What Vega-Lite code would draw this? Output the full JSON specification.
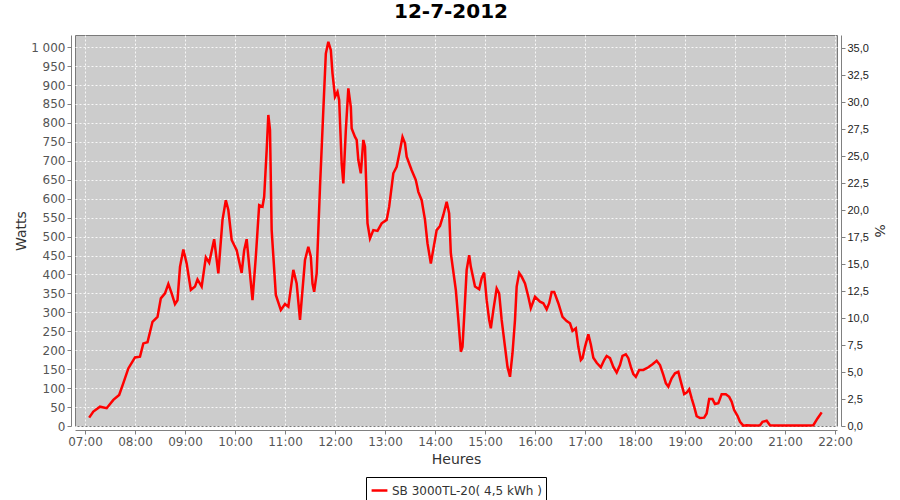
{
  "$schema": "https://vega.github.io/schema/vega-lite/v6.json",
  "width": 762,
  "height": 391,
  "autosize": {"type": "none"},
  "padding": {"left": 75, "top": 35, "right": 63, "bottom": 74},
  "background": "white",
  "title": {"text": "12-7-2012", "fontSize": 20, "fontWeight": "bold", "font": "DejaVu Sans", "color": "#000000", "anchor": "middle", "offset": 10, "dx": -5},
  "config": {
    "view": {"fill": "#cccccc", "stroke": "#7a7a7a", "strokeWidth": 1},
    "axis": {"labelFont": "DejaVu Sans", "titleFont": "DejaVu Sans", "domainColor": "#808080", "tickColor": "#808080", "tickSize": 4, "labelPadding": 2, "gridColor": "#ffffff", "gridDash": [2, 2], "gridWidth": 1, "gridOpacity": 0.85}
  },
  "layer": [
    {
      "data": {
        "values": [
          {"t":"2012-07-12T07:05","w":22},{"t":"2012-07-12T07:10","w":38},{"t":"2012-07-12T07:18","w":51},{"t":"2012-07-12T07:26","w":47},{"t":"2012-07-12T07:34","w":69},{"t":"2012-07-12T07:41","w":82},{"t":"2012-07-12T07:46","w":113},{"t":"2012-07-12T07:52","w":152},{"t":"2012-07-12T08:00","w":181},{"t":"2012-07-12T08:06","w":183},{"t":"2012-07-12T08:10","w":218},{"t":"2012-07-12T08:15","w":221},{"t":"2012-07-12T08:21","w":275},{"t":"2012-07-12T08:27","w":288},{"t":"2012-07-12T08:31","w":337},{"t":"2012-07-12T08:36","w":350},{"t":"2012-07-12T08:40","w":375},{"t":"2012-07-12T08:44","w":350},{"t":"2012-07-12T08:48","w":322},{"t":"2012-07-12T08:51","w":332},{"t":"2012-07-12T08:54","w":420},{"t":"2012-07-12T08:58","w":466},{"t":"2012-07-12T09:02","w":429},{"t":"2012-07-12T09:07","w":359},{"t":"2012-07-12T09:12","w":368},{"t":"2012-07-12T09:15","w":387},{"t":"2012-07-12T09:20","w":368},{"t":"2012-07-12T09:25","w":445},{"t":"2012-07-12T09:29","w":431},{"t":"2012-07-12T09:35","w":493},{"t":"2012-07-12T09:40","w":403},{"t":"2012-07-12T09:45","w":544},{"t":"2012-07-12T09:49","w":596},{"t":"2012-07-12T09:52","w":570},{"t":"2012-07-12T09:56","w":491},{"t":"2012-07-12T10:02","w":464},{"t":"2012-07-12T10:08","w":404},{"t":"2012-07-12T10:11","w":464},{"t":"2012-07-12T10:14","w":493},{"t":"2012-07-12T10:21","w":332},{"t":"2012-07-12T10:25","w":447},{"t":"2012-07-12T10:29","w":583},{"t":"2012-07-12T10:33","w":579},{"t":"2012-07-12T10:35","w":605},{"t":"2012-07-12T10:38","w":728},{"t":"2012-07-12T10:40","w":821},{"t":"2012-07-12T10:42","w":781},{"t":"2012-07-12T10:44","w":517},{"t":"2012-07-12T10:49","w":346},{"t":"2012-07-12T10:55","w":306},{"t":"2012-07-12T11:00","w":322},{"t":"2012-07-12T11:04","w":315},{"t":"2012-07-12T11:10","w":412},{"t":"2012-07-12T11:14","w":376},{"t":"2012-07-12T11:18","w":280},{"t":"2012-07-12T11:24","w":438},{"t":"2012-07-12T11:28","w":473},{"t":"2012-07-12T11:31","w":447},{"t":"2012-07-12T11:33","w":376},{"t":"2012-07-12T11:35","w":354},{"t":"2012-07-12T11:38","w":403},{"t":"2012-07-12T11:42","w":631},{"t":"2012-07-12T11:46","w":834},{"t":"2012-07-12T11:49","w":983},{"t":"2012-07-12T11:52","w":1014},{"t":"2012-07-12T11:55","w":992},{"t":"2012-07-12T11:57","w":931},{"t":"2012-07-12T12:00","w":869},{"t":"2012-07-12T12:03","w":882},{"t":"2012-07-12T12:05","w":860},{"t":"2012-07-12T12:08","w":693},{"t":"2012-07-12T12:10","w":640},{"t":"2012-07-12T12:13","w":781},{"t":"2012-07-12T12:16","w":891},{"t":"2012-07-12T12:19","w":842},{"t":"2012-07-12T12:20","w":785},{"t":"2012-07-12T12:24","w":763},{"t":"2012-07-12T12:26","w":755},{"t":"2012-07-12T12:28","w":702},{"t":"2012-07-12T12:31","w":667},{"t":"2012-07-12T12:34","w":755},{"t":"2012-07-12T12:36","w":737},{"t":"2012-07-12T12:39","w":535},{"t":"2012-07-12T12:42","w":495},{"t":"2012-07-12T12:46","w":517},{"t":"2012-07-12T12:51","w":515},{"t":"2012-07-12T12:56","w":535},{"t":"2012-07-12T13:02","w":544},{"t":"2012-07-12T13:05","w":579},{"t":"2012-07-12T13:10","w":667},{"t":"2012-07-12T13:14","w":684},{"t":"2012-07-12T13:18","w":728},{"t":"2012-07-12T13:21","w":763},{"t":"2012-07-12T13:24","w":746},{"t":"2012-07-12T13:26","w":711},{"t":"2012-07-12T13:32","w":675},{"t":"2012-07-12T13:37","w":649},{"t":"2012-07-12T13:40","w":618},{"t":"2012-07-12T13:44","w":596},{"t":"2012-07-12T13:48","w":544},{"t":"2012-07-12T13:51","w":482},{"t":"2012-07-12T13:55","w":429},{"t":"2012-07-12T14:02","w":517},{"t":"2012-07-12T14:06","w":528},{"t":"2012-07-12T14:10","w":557},{"t":"2012-07-12T14:14","w":592},{"t":"2012-07-12T14:17","w":561},{"t":"2012-07-12T14:19","w":456},{"t":"2012-07-12T14:25","w":359},{"t":"2012-07-12T14:28","w":280},{"t":"2012-07-12T14:31","w":196},{"t":"2012-07-12T14:33","w":209},{"t":"2012-07-12T14:35","w":288},{"t":"2012-07-12T14:38","w":412},{"t":"2012-07-12T14:41","w":451},{"t":"2012-07-12T14:43","w":420},{"t":"2012-07-12T14:48","w":368},{"t":"2012-07-12T14:53","w":361},{"t":"2012-07-12T14:56","w":390},{"t":"2012-07-12T14:59","w":405},{"t":"2012-07-12T15:02","w":332},{"t":"2012-07-12T15:05","w":280},{"t":"2012-07-12T15:07","w":258},{"t":"2012-07-12T15:10","w":306},{"t":"2012-07-12T15:14","w":363},{"t":"2012-07-12T15:17","w":350},{"t":"2012-07-12T15:20","w":280},{"t":"2012-07-12T15:24","w":209},{"t":"2012-07-12T15:27","w":156},{"t":"2012-07-12T15:30","w":130},{"t":"2012-07-12T15:33","w":192},{"t":"2012-07-12T15:36","w":280},{"t":"2012-07-12T15:38","w":368},{"t":"2012-07-12T15:41","w":404},{"t":"2012-07-12T15:44","w":394},{"t":"2012-07-12T15:48","w":376},{"t":"2012-07-12T15:52","w":341},{"t":"2012-07-12T15:55","w":311},{"t":"2012-07-12T16:00","w":341},{"t":"2012-07-12T16:06","w":328},{"t":"2012-07-12T16:10","w":324},{"t":"2012-07-12T16:14","w":308},{"t":"2012-07-12T16:17","w":324},{"t":"2012-07-12T16:20","w":354},{"t":"2012-07-12T16:23","w":354},{"t":"2012-07-12T16:28","w":324},{"t":"2012-07-12T16:33","w":288},{"t":"2012-07-12T16:38","w":277},{"t":"2012-07-12T16:42","w":271},{"t":"2012-07-12T16:45","w":251},{"t":"2012-07-12T16:49","w":258},{"t":"2012-07-12T16:52","w":209},{"t":"2012-07-12T16:55","w":174},{"t":"2012-07-12T16:57","w":179},{"t":"2012-07-12T17:00","w":209},{"t":"2012-07-12T17:04","w":242},{"t":"2012-07-12T17:07","w":215},{"t":"2012-07-12T17:10","w":180},{"t":"2012-07-12T17:14","w":167},{"t":"2012-07-12T17:19","w":155},{"t":"2012-07-12T17:23","w":174},{"t":"2012-07-12T17:26","w":185},{"t":"2012-07-12T17:30","w":179},{"t":"2012-07-12T17:34","w":156},{"t":"2012-07-12T17:38","w":141},{"t":"2012-07-12T17:42","w":161},{"t":"2012-07-12T17:45","w":185},{"t":"2012-07-12T17:49","w":189},{"t":"2012-07-12T17:52","w":179},{"t":"2012-07-12T17:55","w":156},{"t":"2012-07-12T17:58","w":137},{"t":"2012-07-12T18:01","w":130},{"t":"2012-07-12T18:05","w":148},{"t":"2012-07-12T18:10","w":148},{"t":"2012-07-12T18:16","w":155},{"t":"2012-07-12T18:21","w":163},{"t":"2012-07-12T18:26","w":172},{"t":"2012-07-12T18:30","w":161},{"t":"2012-07-12T18:34","w":135},{"t":"2012-07-12T18:37","w":113},{"t":"2012-07-12T18:40","w":104},{"t":"2012-07-12T18:44","w":126},{"t":"2012-07-12T18:48","w":139},{"t":"2012-07-12T18:52","w":143},{"t":"2012-07-12T18:55","w":117},{"t":"2012-07-12T18:59","w":84},{"t":"2012-07-12T19:02","w":88},{"t":"2012-07-12T19:05","w":97},{"t":"2012-07-12T19:08","w":73},{"t":"2012-07-12T19:11","w":51},{"t":"2012-07-12T19:14","w":26},{"t":"2012-07-12T19:18","w":21},{"t":"2012-07-12T19:23","w":22},{"t":"2012-07-12T19:26","w":33},{"t":"2012-07-12T19:29","w":71},{"t":"2012-07-12T19:33","w":71},{"t":"2012-07-12T19:36","w":58},{"t":"2012-07-12T19:40","w":60},{"t":"2012-07-12T19:44","w":84},{"t":"2012-07-12T19:49","w":84},{"t":"2012-07-12T19:53","w":77},{"t":"2012-07-12T19:56","w":64},{"t":"2012-07-12T19:59","w":42},{"t":"2012-07-12T20:03","w":27},{"t":"2012-07-12T20:06","w":11},{"t":"2012-07-12T20:10","w":1},{"t":"2012-07-12T20:14","w":2},{"t":"2012-07-12T20:20","w":1},{"t":"2012-07-12T20:26","w":1},{"t":"2012-07-12T20:30","w":2},{"t":"2012-07-12T20:33","w":11},{"t":"2012-07-12T20:38","w":14},{"t":"2012-07-12T20:42","w":2},{"t":"2012-07-12T20:48","w":1},{"t":"2012-07-12T20:55","w":1},{"t":"2012-07-12T21:02","w":1},{"t":"2012-07-12T21:10","w":1},{"t":"2012-07-12T21:18","w":1},{"t":"2012-07-12T21:26","w":1},{"t":"2012-07-12T21:34","w":2},{"t":"2012-07-12T21:39","w":20},{"t":"2012-07-12T21:44","w":36}
        ]
      },
      "mark": {"type": "line", "strokeWidth": 2.5, "interpolate": "linear"},
      "encoding": {
        "x": {
          "field": "t", "type": "temporal",
          "scale": {"domain": [{"year": 2012, "month": 7, "date": 12, "hours": 6, "minutes": 48}, {"year": 2012, "month": 7, "date": 12, "hours": 22, "minutes": 2, "seconds": 24}]},
          "axis": {"title": "Heures", "format": "%H:%M", "tickCount": 16, "offset": 4, "labelFontSize": 12, "labelColor": "#555555", "titleFontSize": 14, "titleFontWeight": 500, "titleColor": "#333333", "titlePadding": 5, "grid": true}
        },
        "y": {
          "field": "w", "type": "quantitative",
          "scale": {"domain": [0, 1032], "nice": false},
          "axis": {"title": "Watts", "values": [0,50,100,150,200,250,300,350,400,450,500,550,600,650,700,750,800,850,900,950,1000], "labelExpr": "replace(format(datum.value, ',d'), ',', ' ')", "offset": 4, "labelFontSize": 12, "labelColor": "#555555", "titleFontSize": 14, "titleFontWeight": 500, "titleColor": "#333333", "titlePadding": 2, "grid": true}
        },
        "color": {
          "datum": "SB 3000TL-20( 4,5 kWh )",
          "scale": {"range": ["#ff0000"]},
          "legend": {"title": null, "orient": "none", "legendX": 291, "legendY": 442, "strokeColor": "#000000", "padding": 4, "symbolType": "stroke", "symbolStrokeWidth": 2.5, "symbolSize": 250, "labelOffset": 3, "labelFont": "DejaVu Sans", "labelFontSize": 12, "labelLimit": 400, "labelColor": "#333333", "fillColor": "#ffffff"}
        }
      }
    },
    {
      "data": {"values": [{"p": 0}, {"p": 36.24}]},
      "mark": {"type": "point", "opacity": 0},
      "encoding": {
        "y": {
          "field": "p", "type": "quantitative",
          "scale": {"domain": [0, 36.24], "nice": false},
          "axis": {"orient": "right", "title": "%", "values": [0,2.5,5,7.5,10,12.5,15,17.5,20,22.5,25,27.5,30,32.5,35], "labelExpr": "replace(format(datum.value, '.1f'), '.', ',')", "offset": 4, "grid": false, "labelFont": "Liberation Sans", "labelFontSize": 11, "labelColor": "#222222", "titleFontSize": 14, "titleFontWeight": 500, "titleColor": "#333333", "titlePadding": 3}
        }
      }
    }
  ],
  "resolve": {"scale": {"y": "independent"}}
}
